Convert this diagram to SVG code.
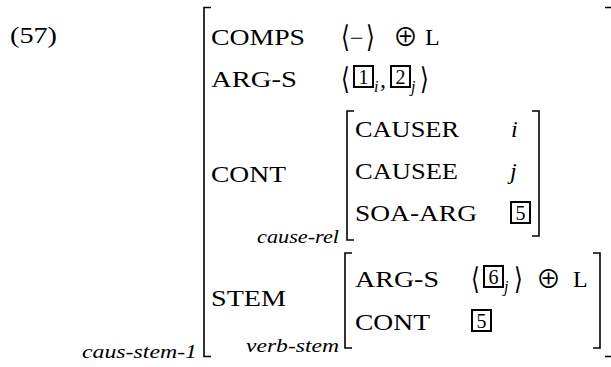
<svg xmlns="http://www.w3.org/2000/svg" width="611" height="367" viewBox="0 0 611 367">
<style>
.t{font-family:"Liberation Serif",serif;font-size:24px;fill:#000}
.a{font-family:"DejaVu Sans",sans-serif;font-size:30px;fill:#000}
.p{font-family:"Noto Sans CJK JP","DejaVu Sans",sans-serif;font-size:25px;fill:#000}
.it{font-family:"Liberation Serif",serif;font-style:italic;fill:#000}
.br{fill:none;stroke:#000;stroke-width:1.6}
.bx{fill:none;stroke:#000;stroke-width:2}
.d{font-family:"Liberation Serif",serif;font-size:20px;fill:#000;text-anchor:middle}
</style>
<rect width="611" height="367" fill="#fff"/>
<text class="t" x="10" y="43" font-size="26" textLength="47" lengthAdjust="spacingAndGlyphs">(57)</text>

<g id="outer">
<path class="br" d="M211,7.5 H204 V356.5 H211"/>
<path class="br" d="M605,7.5 H612 M605,356.5 H612"/>
<text class="it" x="197" y="358" font-size="18" text-anchor="end" textLength="115" lengthAdjust="spacingAndGlyphs">caus-stem-1</text>
</g>

<g id="comps">
<text class="t" x="211" y="45" textLength="94" lengthAdjust="spacingAndGlyphs">COMPS</text>
<text class="a" x="0" y="0" transform="translate(341,47) scale(0.75,1)">⟨</text>
<text class="t" x="350" y="46" font-size="30">−</text>
<text class="a" x="0" y="0" transform="translate(366,47) scale(0.75,1)">⟩</text>
<text class="p" x="393" y="46">⊕</text>
<text class="t" x="425" y="45" font-size="29">L</text>
</g>

<g id="args">
<text class="t" x="211" y="87" textLength="86" lengthAdjust="spacingAndGlyphs">ARG-S</text>
<text class="a" x="0" y="0" transform="translate(341,89) scale(0.75,1)">⟨</text>
<rect class="bx" x="354" y="66" width="19" height="21"/>
<text class="d" x="363.5" y="84">1</text>
<text class="it" x="374" y="92" font-size="16">i</text>
<text class="t" x="380" y="87">,</text>
<rect class="bx" x="391" y="66" width="19" height="21"/>
<text class="d" x="400.5" y="84">2</text>
<text class="it" x="411" y="92" font-size="16">j</text>
<text class="a" x="0" y="0" transform="translate(420,89) scale(0.75,1)">⟩</text>
</g>

<g id="cont">
<text class="t" x="211" y="182" textLength="75" lengthAdjust="spacingAndGlyphs">CONT</text>
<path class="br" d="M354,111 H347 V240 H354"/>
<path class="br" d="M532,111 H539 V236 H532"/>
<text class="t" x="355" y="137" textLength="104" lengthAdjust="spacingAndGlyphs">CAUSER</text>
<text class="it" x="511" y="137" font-size="24">i</text>
<text class="t" x="355" y="179" textLength="103" lengthAdjust="spacingAndGlyphs">CAUSEE</text>
<text class="it" x="510" y="179" font-size="24">j</text>
<text class="t" x="355" y="221" textLength="122" lengthAdjust="spacingAndGlyphs">SOA-ARG</text>
<rect class="bx" x="511" y="202" width="19" height="21"/>
<text class="d" x="520.5" y="220">5</text>
<text class="it" x="339" y="243" font-size="18" text-anchor="end" textLength="82" lengthAdjust="spacingAndGlyphs">cause-rel</text>
</g>

<g id="stem">
<text class="t" x="211" y="306" textLength="75" lengthAdjust="spacingAndGlyphs">STEM</text>
<path class="br" d="M352,253 H345 V348 H352"/>
<path class="br" d="M593,253 H600 V348 H593"/>
<text class="t" x="355" y="287" textLength="84" lengthAdjust="spacingAndGlyphs">ARG-S</text>
<text class="a" x="0" y="0" transform="translate(471,289) scale(0.75,1)">⟨</text>
<rect class="bx" x="484" y="266" width="19" height="21"/>
<text class="d" x="493.5" y="284">6</text>
<text class="it" x="504" y="292" font-size="16">j</text>
<text class="a" x="0" y="0" transform="translate(514,289) scale(0.75,1)">⟩</text>
<text class="p" x="536" y="288">⊕</text>
<text class="t" x="573" y="287" font-size="29">L</text>
<text class="t" x="355" y="330" textLength="75" lengthAdjust="spacingAndGlyphs">CONT</text>
<rect class="bx" x="472" y="310" width="19" height="21"/>
<text class="d" x="481.5" y="328">5</text>
<text class="it" x="339" y="352" font-size="18" text-anchor="end" textLength="93" lengthAdjust="spacingAndGlyphs">verb-stem</text>
</g>
</svg>
